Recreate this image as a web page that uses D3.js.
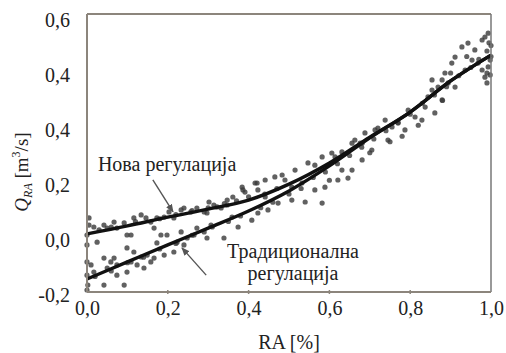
<!DOCTYPE html>
<html><head><meta charset="utf-8">
<script src="https://cdn.jsdelivr.net/npm/d3@7"></script>
<style>
html,body{margin:0;padding:0;background:#fff;}
svg{display:block;}
svg text{font-family:"Liberation Serif","DejaVu Serif","Times New Roman",Times,serif;}
</style></head>
<body>
<svg id="chart" width="506" height="353"></svg>
<script>
// ---------- data ----------
const xTickValues = [0, 0.2, 0.4, 0.6, 0.8, 1.0];
const xTickLabels = ["0,0", "0,2", "0,4", "0,6", "0,8", "1,0"];
const yTickValues = [-0.2, 0, 0.2, 0.4, 0.6, 0.8];
const yTickLabels = ["-0,2", "0,0", "0,2", "0,4", "0,4", "0,6"];

const curveX = [0, 0.1, 0.2, 0.3, 0.4, 0.5, 0.6, 0.7, 0.8, 0.9, 1.0];
const novaY = [0.015, 0.044, 0.076, 0.105, 0.138, 0.196, 0.273, 0.367, 0.458, 0.571, 0.665];
const tradY = [-0.149, -0.087, -0.025, 0.036, 0.098, 0.171, 0.262, 0.364, 0.458, 0.571, 0.665];

const scatterX = [
  0.005,0.005,0,0.017,0.025,0.042,0.05,0.067,0.074,0.092,0.099,0.109,0.116,0.134,0.146,0.158,0.166,0.173,0.191,0.203,0.215,0.233,0.24,0.257,0.272,0.29,0.302,0.314,0.332,0.347,
  0,0.01,0.017,0.042,0.05,0.059,0.067,0.074,0.042,0.074,0.092,0.099,0.109,0.116,0.124,0.134,0.141,0.149,0.158,0.166,0.173,0.183,0.191,0.198,0.215,0.223,0.233,0.24,0.248,0.265,0.272,0.29,0.297,0.307,0.339,0.099,
  0.384,0.416,0.441,0.465,0.483,0.49,0.515,0.547,0.564,0.582,0.606,0.614,0.631,0.656,0.663,0.676,0.681,0.391,0.423,0.507,0.532,0.374,0.408,0.423,0.448,0.473,0.507,0.54,0.582,0.564,0.589,0.621,0.646,0.631,0.656,0.359,0.441,0.421,0.386,0.361,0.322,0.347,0.297,
  0.688,0.713,0.738,0.755,0.77,0.745,0.787,0.812,0.837,0.844,0.854,0.869,0.879,0.886,0.903,0.911,0.928,0.943,0.96,0.978,0.985,0.993,0.968,0.978,0.985,0.99,0.993,0.911,0.861,0.879,0.894,0.936,0.953,0.829,0.795,0.854,0.681,0.705,
  1.0,0.998,0.998,0,0,0.002,0,
  0.03,0.06,0.12,0.18,0.22,0.26,0.3,0.34,0.37,0.4,0.44,0.47,
  0.02,0.06,0.1,0.14,0.18,0.22,0.26,0.31,0.35,0.38,0.43,0.46,0.5,0.53,
  0.56,0.59,0.62,0.65,0.68,0.71,0.74,0.77,0.8,0.83,0.86,0.89,0.92,0.95,0.97,0.6,0.7,0.75,0.72,0.78,0.82,0.88,0.9,0.94,0.99,1.0,0.99,0.995
];
const scatterY = [
  0.073,0.047,0.011,0.04,-0.015,0.047,0.036,0.058,0.036,0.055,0.011,0.011,0.073,0.084,0.073,0.058,0.036,0.073,0.076,0.095,0.073,0.102,0.109,0.095,0.109,0.095,0.131,0.12,0.109,0.12,
  -0.087,-0.098,-0.124,-0.073,-0.109,-0.087,-0.073,-0.098,-0.171,-0.135,-0.171,-0.124,-0.087,-0.051,-0.098,-0.069,-0.109,-0.062,-0.087,-0.073,-0.018,0.011,-0.062,0.011,-0.051,-0.015,0.022,-0.025,0.0,0.011,0.036,0.022,0.0,0.047,0.0,-0.036,
  0.185,0.2,0.211,0.222,0.229,0.211,0.247,0.273,0.265,0.295,0.309,0.295,0.313,0.345,0.356,0.345,0.284,0.167,0.175,0.185,0.2,0.04,0.065,0.091,0.102,0.127,0.138,0.131,0.127,0.175,0.185,0.211,0.218,0.247,0.247,0.076,0.149,0.2,0.175,0.149,0.113,0.138,0.091,
  0.382,0.393,0.429,0.404,0.418,0.356,0.393,0.44,0.476,0.513,0.538,0.549,0.575,0.6,0.636,0.658,0.695,0.709,0.684,0.72,0.731,0.745,0.636,0.611,0.585,0.564,0.622,0.549,0.455,0.502,0.564,0.611,0.647,0.429,0.465,0.575,0.345,0.32,
  0.7,0.647,0.593,-0.025,-0.135,-0.171,-0.189,
  0.03,0.04,0.06,0.07,0.085,0.10,0.11,0.125,0.135,0.15,0.16,0.18,
  -0.14,-0.12,-0.09,-0.07,-0.04,-0.02,0.01,0.04,0.06,0.08,0.11,0.13,0.16,0.18,
  0.22,0.24,0.27,0.30,0.33,0.36,0.39,0.42,0.45,0.49,0.52,0.55,0.59,0.62,0.65,0.21,0.31,0.35,0.40,0.37,0.41,0.50,0.60,0.66,0.68,0.66,0.60,0.71
];

const labelNova = "Нова регулација";
const labelTrad1 = "Традиционална";
const labelTrad2 = "регулација";
const xTitle = "RA [%]";

// annotation anchors in data units
const novaArrow = [[0.163, 0.211], [0.213, 0.095]];
const tradArrow = [[0.295, -0.135], [0.235, -0.036]];
const novaText = [0.027, 0.244];
const tradText1 = [0.51, -0.073];
const tradText2 = [0.51, -0.153];

// ---------- drawing ----------
const FONT = "'Liberation Serif','DejaVu Serif','Times New Roman',Times,serif";
const svg = d3.select("#chart");
const x = d3.scaleLinear().domain([0, 1]).range([87, 491]);
const y = d3.scaleLinear().domain([-0.2, 0.8]).range([293, 18]);
const plotTop = 14, plotBottom = 292;

const defs = svg.append("defs");
defs.append("marker").attr("id","ah").attr("viewBox","0 0 10 10")
  .attr("refX",9).attr("refY",5).attr("markerWidth",6).attr("markerHeight",6)
  .attr("orient","auto")
  .append("path").attr("d","M0,1 L10,5 L0,9 Z").attr("fill","#555");

// scatter
svg.append("g").selectAll("circle").data(scatterX.map((d,i)=>[d, scatterY[i]]))
  .join("circle")
  .attr("cx", d => x(d[0])).attr("cy", d => y(d[1]))
  .attr("r", 2.6).attr("fill", "#3a3a3a").attr("opacity", 0.8);

// curves
const line = d3.line().x((d,i)=>x(curveX[i])).y(d=>y(d)).curve(d3.curveMonotoneX);
svg.append("path").attr("d", line(novaY)).attr("fill","none").attr("stroke","#111").attr("stroke-width",3.4);
svg.append("path").attr("d", line(tradY)).attr("fill","none").attr("stroke","#111").attr("stroke-width",3.4);

// frame
const frame = svg.append("g").attr("fill","none");
frame.append("line").attr("x1",x(0)).attr("x2",x(0)).attr("y1",plotTop).attr("y2",plotBottom).attr("stroke","#8c857c").attr("stroke-width",2);
frame.append("line").attr("x1",x(0)).attr("x2",x(1)).attr("y1",plotTop).attr("y2",plotTop).attr("stroke","#8c857c").attr("stroke-width",2);
frame.append("line").attr("x1",x(1)).attr("x2",x(1)).attr("y1",plotTop).attr("y2",plotBottom).attr("stroke","#777").attr("stroke-width",1.5);
frame.append("line").attr("x1",x(0)).attr("x2",x(1)).attr("y1",plotBottom).attr("y2",plotBottom).attr("stroke","#8c857c").attr("stroke-width",2);
frame.selectAll("line.bt").data(xTickValues.slice(1,-1)).join("line").attr("class","bt")
  .attr("x1",d=>x(d)).attr("x2",d=>x(d)).attr("y1",plotBottom-2).attr("y2",plotBottom+2)
  .attr("stroke","#8c857c").attr("stroke-width",1.5);

// axes (labels only)
const xAxis = d3.axisBottom(x).tickValues(xTickValues).tickSize(0)
  .tickFormat((d,i)=>xTickLabels[i]);
const gx = svg.append("g").attr("transform",`translate(0,${plotBottom})`).call(xAxis)
  .attr("font-family", FONT).attr("font-size", 20);
gx.select(".domain").remove();
gx.selectAll("text").attr("fill","#222").attr("dy","1.0em");

const yAxis = d3.axisLeft(y).tickValues(yTickValues).tickSize(0)
  .tickFormat((d,i)=>yTickLabels[i]);
const gy = svg.append("g").attr("transform",`translate(${x(0)-14},0)`).call(yAxis)
  .attr("font-family", FONT).attr("font-size", 20);
gy.select(".domain").remove();
gy.selectAll("text").attr("fill","#222").attr("dy","0.42em");

// annotations
const ann = svg.append("g").attr("font-size",20).attr("font-family",FONT).attr("fill","#222");
ann.append("text").attr("x",x(novaText[0])).attr("y",y(novaText[1])).text(labelNova);
ann.append("text").attr("x",x(tradText1[0])).attr("y",y(tradText1[1])).attr("text-anchor","middle").text(labelTrad1);
ann.append("text").attr("x",x(tradText2[0])).attr("y",y(tradText2[1])).attr("text-anchor","middle").text(labelTrad2);
[novaArrow, tradArrow].forEach(a => {
  svg.append("line").attr("x1",x(a[0][0])).attr("y1",y(a[0][1]))
    .attr("x2",x(a[1][0])).attr("y2",y(a[1][1]))
    .attr("stroke","#555").attr("stroke-width",1.4).attr("marker-end","url(#ah)");
});

// axis titles
svg.append("text").attr("x", x(0.5)).attr("y", 349).attr("text-anchor","middle")
  .attr("font-family",FONT).attr("font-size",20).attr("fill","#222").text(xTitle);
const yt = svg.append("text").attr("transform","translate(28,172) rotate(-90)")
  .attr("text-anchor","middle").attr("font-family",FONT).attr("font-size",19).attr("fill","#222");
yt.append("tspan").attr("font-style","italic").text("Q");
yt.append("tspan").attr("font-style","italic").attr("font-size",12).attr("dy",4).text("RA");
yt.append("tspan").attr("dy",-4).text(" [m");
yt.append("tspan").attr("font-size",12).attr("dy",-8).text("3");
yt.append("tspan").attr("dy",8).text("/s]");
</script>
</body></html>
